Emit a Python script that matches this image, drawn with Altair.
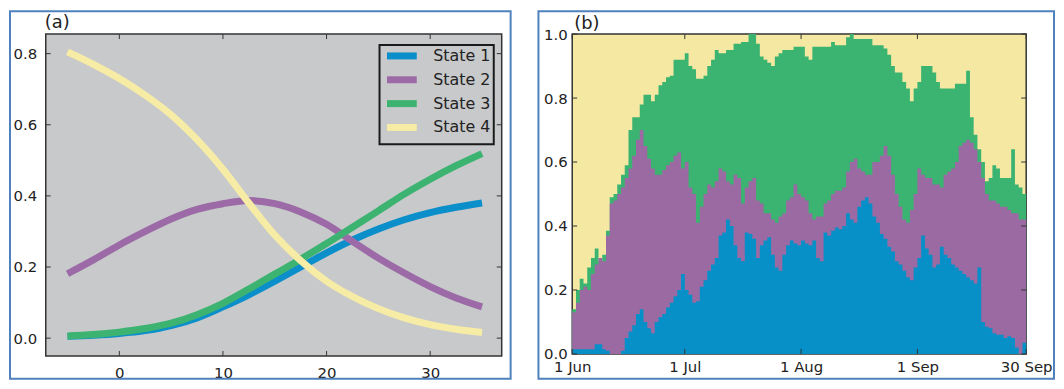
import altair as alt
import pandas as pd

FONT = "DejaVu Sans"
TEXT = "#222222"
FRAME = "#333333"
BORDER = "#4f81bd"

# ---------------- panel (a) data ----------------
states = ["State 1", "State 2", "State 3", "State 4"]
line_colors = ["#0b8fca", "#9c6ba7", "#3cb371", "#f7eca6"]

a_x = [-5, -2.5, 0, 2.5, 5, 7.5, 10, 12.5, 15, 17.5, 20, 22.5, 25, 27.5, 30, 32.5, 35]
a_state1 = [0.005, 0.008, 0.013, 0.021, 0.035, 0.057, 0.088, 0.122, 0.16, 0.20, 0.24, 0.276, 0.307, 0.333, 0.353, 0.368, 0.38]
a_state2 = [0.181, 0.22, 0.262, 0.30, 0.335, 0.362, 0.378, 0.387, 0.378, 0.355, 0.32, 0.272, 0.225, 0.183, 0.145, 0.113, 0.088]
a_state3 = [0.006, 0.01, 0.017, 0.027, 0.042, 0.066, 0.098, 0.138, 0.18, 0.222, 0.266, 0.312, 0.358, 0.405, 0.447, 0.485, 0.519]
a_state4 = [0.805, 0.77, 0.73, 0.683, 0.628, 0.558, 0.475, 0.38, 0.29, 0.218, 0.16, 0.117, 0.083, 0.057, 0.038, 0.025, 0.016]
a_xticks = [0, 10, 20, 30]
a_yticks = [0.0, 0.2, 0.4, 0.6, 0.8]

# ---------------- panel (b) data ----------------
fill_colors = ["#0790c8", "#9b6aa3", "#3bb371", "#f4e8a2"]
b_days = list(range(122))  # 1 Jun (day 0) .. 30 Sep (day 121)
# cumulative top of State 1
b_top1 = [0.015, 0.015, 0.015, 0.015, 0.015, 0.015, 0.03, 0.03, 0.015, 0.01,
          0.0, 0.0, 0.0, 0.01, 0.05, 0.07, 0.09, 0.125, 0.14, 0.10,
          0.08, 0.065, 0.10, 0.115, 0.125, 0.145, 0.16, 0.18, 0.20, 0.25,
          0.20, 0.185, 0.16, 0.165, 0.21, 0.23, 0.26, 0.28, 0.30, 0.37,
          0.38, 0.42, 0.40, 0.34, 0.30, 0.29, 0.38, 0.375, 0.36, 0.30,
          0.34, 0.355, 0.365, 0.31, 0.27, 0.26, 0.31, 0.34, 0.355, 0.345,
          0.34, 0.355, 0.345, 0.34, 0.355, 0.30, 0.29, 0.38, 0.37, 0.385,
          0.395, 0.39, 0.40, 0.44, 0.42, 0.41, 0.46, 0.48, 0.49, 0.47,
          0.43, 0.41, 0.375, 0.36, 0.335, 0.32, 0.29, 0.28, 0.26, 0.24,
          0.23, 0.27, 0.30, 0.37, 0.33, 0.31, 0.27, 0.28, 0.335, 0.31,
          0.30, 0.28, 0.27, 0.26, 0.25, 0.24, 0.23, 0.22, 0.27, 0.10,
          0.085, 0.08, 0.065, 0.06, 0.06, 0.05, 0.055, 0.05, 0.02, 0.0, 0.035, 0.035]
# cumulative top of State 1 + State 2
b_top2 = [0.13, 0.16, 0.20, 0.21, 0.20, 0.25, 0.28, 0.30, 0.29, 0.37,
          0.47, 0.48, 0.50, 0.52, 0.55, 0.58, 0.62, 0.67, 0.70, 0.65,
          0.61, 0.58, 0.56, 0.56, 0.575, 0.59, 0.60, 0.62, 0.63, 0.58,
          0.60, 0.52, 0.50, 0.41, 0.46, 0.50, 0.53, 0.52, 0.54, 0.58,
          0.57, 0.54, 0.53, 0.56, 0.55, 0.47, 0.52, 0.54, 0.55, 0.48,
          0.47, 0.44, 0.44, 0.42, 0.41, 0.43, 0.44, 0.48, 0.49, 0.53,
          0.50, 0.49, 0.48, 0.44, 0.42, 0.43, 0.43, 0.47, 0.48, 0.50,
          0.51, 0.51, 0.52, 0.57, 0.60, 0.61, 0.58, 0.57, 0.56, 0.56,
          0.60, 0.60, 0.62, 0.65, 0.62, 0.56, 0.50, 0.46, 0.42, 0.41,
          0.45, 0.50, 0.58, 0.56, 0.55, 0.55, 0.53, 0.53, 0.52, 0.56,
          0.57, 0.58, 0.60, 0.65, 0.66, 0.67, 0.66, 0.64, 0.60, 0.55,
          0.50, 0.48, 0.48, 0.47, 0.46, 0.46, 0.45, 0.44, 0.44, 0.42, 0.42, 0.42]
# cumulative top of State 1 + State 2 + State 3
b_top3 = [0.14, 0.20, 0.235, 0.22, 0.27, 0.30, 0.33, 0.29, 0.31, 0.385,
          0.49, 0.50, 0.53, 0.56, 0.59, 0.70, 0.74, 0.74, 0.78, 0.81,
          0.81, 0.79, 0.81, 0.84, 0.85, 0.865, 0.87, 0.92, 0.92, 0.92,
          0.94, 0.90, 0.89, 0.86, 0.86, 0.87, 0.90, 0.92, 0.95, 0.94,
          0.94, 0.95, 0.95, 0.97, 0.97, 0.975, 0.975, 1.0, 1.0, 0.97,
          0.93, 0.92, 0.91, 0.90, 0.93, 0.94, 0.95, 0.95, 0.95, 0.96,
          0.96, 0.96, 0.93, 0.92, 0.96, 0.96, 0.96, 0.96, 0.96, 0.975,
          0.965, 0.965, 0.965, 0.99, 1.0, 0.985, 0.985, 0.985, 0.985, 0.985,
          0.965, 0.965, 0.965, 0.955, 0.935, 0.90, 0.88, 0.88, 0.85, 0.83,
          0.79, 0.83, 0.85, 0.90, 0.90, 0.90, 0.88, 0.85, 0.83, 0.83,
          0.83, 0.83, 0.845, 0.845, 0.845, 0.885, 0.74, 0.685, 0.64, 0.60,
          0.54, 0.55, 0.59, 0.58, 0.55, 0.55, 0.55, 0.64, 0.53, 0.52, 0.50, 0.49]
b_xtick_days = [0, 30, 61, 92, 121]
b_xtick_labels = ["1 Jun", "1 Jul", "1 Aug", "1 Sep", "30 Sep"]
b_yticks = [0.0, 0.2, 0.4, 0.6, 0.8, 1.0]
panel_labels = ["(a)", "(b)"]

one = pd.DataFrame({"k": [0]})

# ---------------- panel (a) chart ----------------
WA, HA = 459, 324
dfa = pd.DataFrame({
    "x": a_x * 4,
    "p": a_state1 + a_state2 + a_state3 + a_state4,
    "state": [s for s in states for _ in a_x],
})
xa = alt.X("x:Q", scale=alt.Scale(domain=[-7.1, 36.9], nice=False, zero=False),
           axis=alt.Axis(values=a_xticks, format="d", ticks=False, domain=False, grid=False,
                         labelPadding=10, labelFlush=False, labelOverlap=False, title=None))
ya = alt.Y("p:Q", scale=alt.Scale(domain=[-0.05, 0.855], nice=False, zero=False),
           axis=alt.Axis(values=a_yticks, format=".1f", ticks=False, domain=False, grid=False,
                         labelPadding=9, labelFlush=False, labelOverlap=False, title=None))

frame_a = alt.Chart(one).mark_rect(filled=False, stroke=BORDER, strokeWidth=2).encode(
    x=alt.value(-36), x2=alt.value(WA + 9), y=alt.value(-23), y2=alt.value(HA + 23))
title_a = alt.Chart(one).mark_text(text=panel_labels[0], align="left", baseline="top",
                                   fontSize=18, font=FONT, color=TEXT).encode(
    x=alt.value(-1), y=alt.value(-20))

lines = alt.Chart(dfa).mark_line(strokeWidth=7, interpolate="monotone", strokeCap="butt").encode(
    x=xa, y=ya,
    color=alt.Color("state:N", scale=alt.Scale(domain=states, range=line_colors),
                    legend=alt.Legend(title=None, orient="none", legendX=336, legendY=11,
                                      fillColor="#c8c9cb", strokeColor="#1a1a1a",
                                      padding=3, symbolType="M-1.75,0H13.25", symbolSize=16,
                                      symbolStrokeWidth=7, labelFontSize=16, labelFont=FONT,
                                      labelColor=TEXT, labelOffset=35, rowPadding=-4)),
    order=alt.Order("state:N"))

dfa_xt = pd.DataFrame({"x": a_xticks})
dfa_yt = pd.DataFrame({"p": a_yticks})
xt_a_bot = alt.Chart(dfa_xt).mark_rule(color=FRAME).encode(x=xa, y=alt.value(HA), y2=alt.value(HA - 5))
xt_a_top = alt.Chart(dfa_xt).mark_rule(color=FRAME).encode(x=xa, y=alt.value(0), y2=alt.value(5))
yt_a_l = alt.Chart(dfa_yt).mark_rule(color=FRAME).encode(y=ya, x=alt.value(0), x2=alt.value(5))
yt_a_r = alt.Chart(dfa_yt).mark_rule(color=FRAME).encode(y=ya, x=alt.value(WA - 5), x2=alt.value(WA))

panel_a = alt.layer(frame_a, title_a, lines, xt_a_bot, xt_a_top, yt_a_l, yt_a_r).properties(
    width=WA, height=HA,
    view=alt.ViewBackground(fill="#c8c9cb", stroke=FRAME, strokeWidth=1.5))

# ---------------- panel (b) chart ----------------
WB, HB = 457, 322
dfb = pd.DataFrame({"day": b_days, "t1": b_top1, "t2": b_top2, "t3": b_top3})
label_expr = " : ".join(f"datum.value == {d} ? '{l}'" for d, l in zip(b_xtick_days, b_xtick_labels)) + " : ''"
xb = alt.X("day:Q", scale=alt.Scale(domain=[0, 121], nice=False, zero=False),
           axis=alt.Axis(values=b_xtick_days, labelExpr=label_expr, ticks=False, domain=False,
                         grid=False, labelPadding=6, labelFlush=False, labelOverlap=False, title=None))
yscale_b = alt.Scale(domain=[0, 1], nice=False, zero=False)
yaxis_b = alt.Axis(values=b_yticks, format=".1f", ticks=False, domain=False, grid=False,
                   labelPadding=5, labelFlush=False, labelOverlap=False, title=None)

frame_b = alt.Chart(one).mark_rect(filled=False, stroke=BORDER, strokeWidth=2).encode(
    x=alt.value(-34), x2=alt.value(WB + 28), y=alt.value(-23), y2=alt.value(HB + 25))
title_b = alt.Chart(one).mark_text(text=panel_labels[1], align="left", baseline="top",
                                   fontSize=18, font=FONT, color=TEXT).encode(
    x=alt.value(2), y=alt.value(-19))

area3 = alt.Chart(dfb).mark_area(interpolate="step-after", color=fill_colors[2]).encode(
    x=xb, y=alt.Y("t3:Q", scale=yscale_b, axis=yaxis_b, stack=None))
area2 = alt.Chart(dfb).mark_area(interpolate="step-after", color=fill_colors[1]).encode(
    x=xb, y=alt.Y("t2:Q", scale=yscale_b, axis=yaxis_b, stack=None))
area1 = alt.Chart(dfb).mark_area(interpolate="step-after", color=fill_colors[0]).encode(
    x=xb, y=alt.Y("t1:Q", scale=yscale_b, axis=yaxis_b, stack=None))

dfb_xt = pd.DataFrame({"day": b_xtick_days})
dfb_yt = pd.DataFrame({"t3": b_yticks})
yb = alt.Y("t3:Q", scale=yscale_b, axis=yaxis_b)
xt_b_bot = alt.Chart(dfb_xt).mark_rule(color=FRAME).encode(x=xb, y=alt.value(HB), y2=alt.value(HB - 5))
xt_b_top = alt.Chart(dfb_xt).mark_rule(color=FRAME).encode(x=xb, y=alt.value(0), y2=alt.value(5))
yt_b_l = alt.Chart(dfb_yt).mark_rule(color=FRAME).encode(y=yb, x=alt.value(0), x2=alt.value(5))
yt_b_r = alt.Chart(dfb_yt).mark_rule(color=FRAME).encode(y=yb, x=alt.value(WB - 5), x2=alt.value(WB))

panel_b = alt.layer(frame_b, title_b, area3, area2, area1, xt_b_bot, xt_b_top, yt_b_l, yt_b_r).properties(
    width=WB, height=HB,
    view=alt.ViewBackground(fill=fill_colors[3], stroke=FRAME, strokeWidth=1.5))

chart = alt.hconcat(panel_a, panel_b, spacing=24).resolve_legend(color="independent").properties(
    padding={"left": 0, "top": 0, "right": 0, "bottom": 0}
).configure(background="white").configure_axis(
    labelFont=FONT, labelFontSize=15, labelColor=TEXT
).configure_legend(strokeWidth=2)

chart.save("out.html", embed_options={"renderer": "svg", "actions": False})
